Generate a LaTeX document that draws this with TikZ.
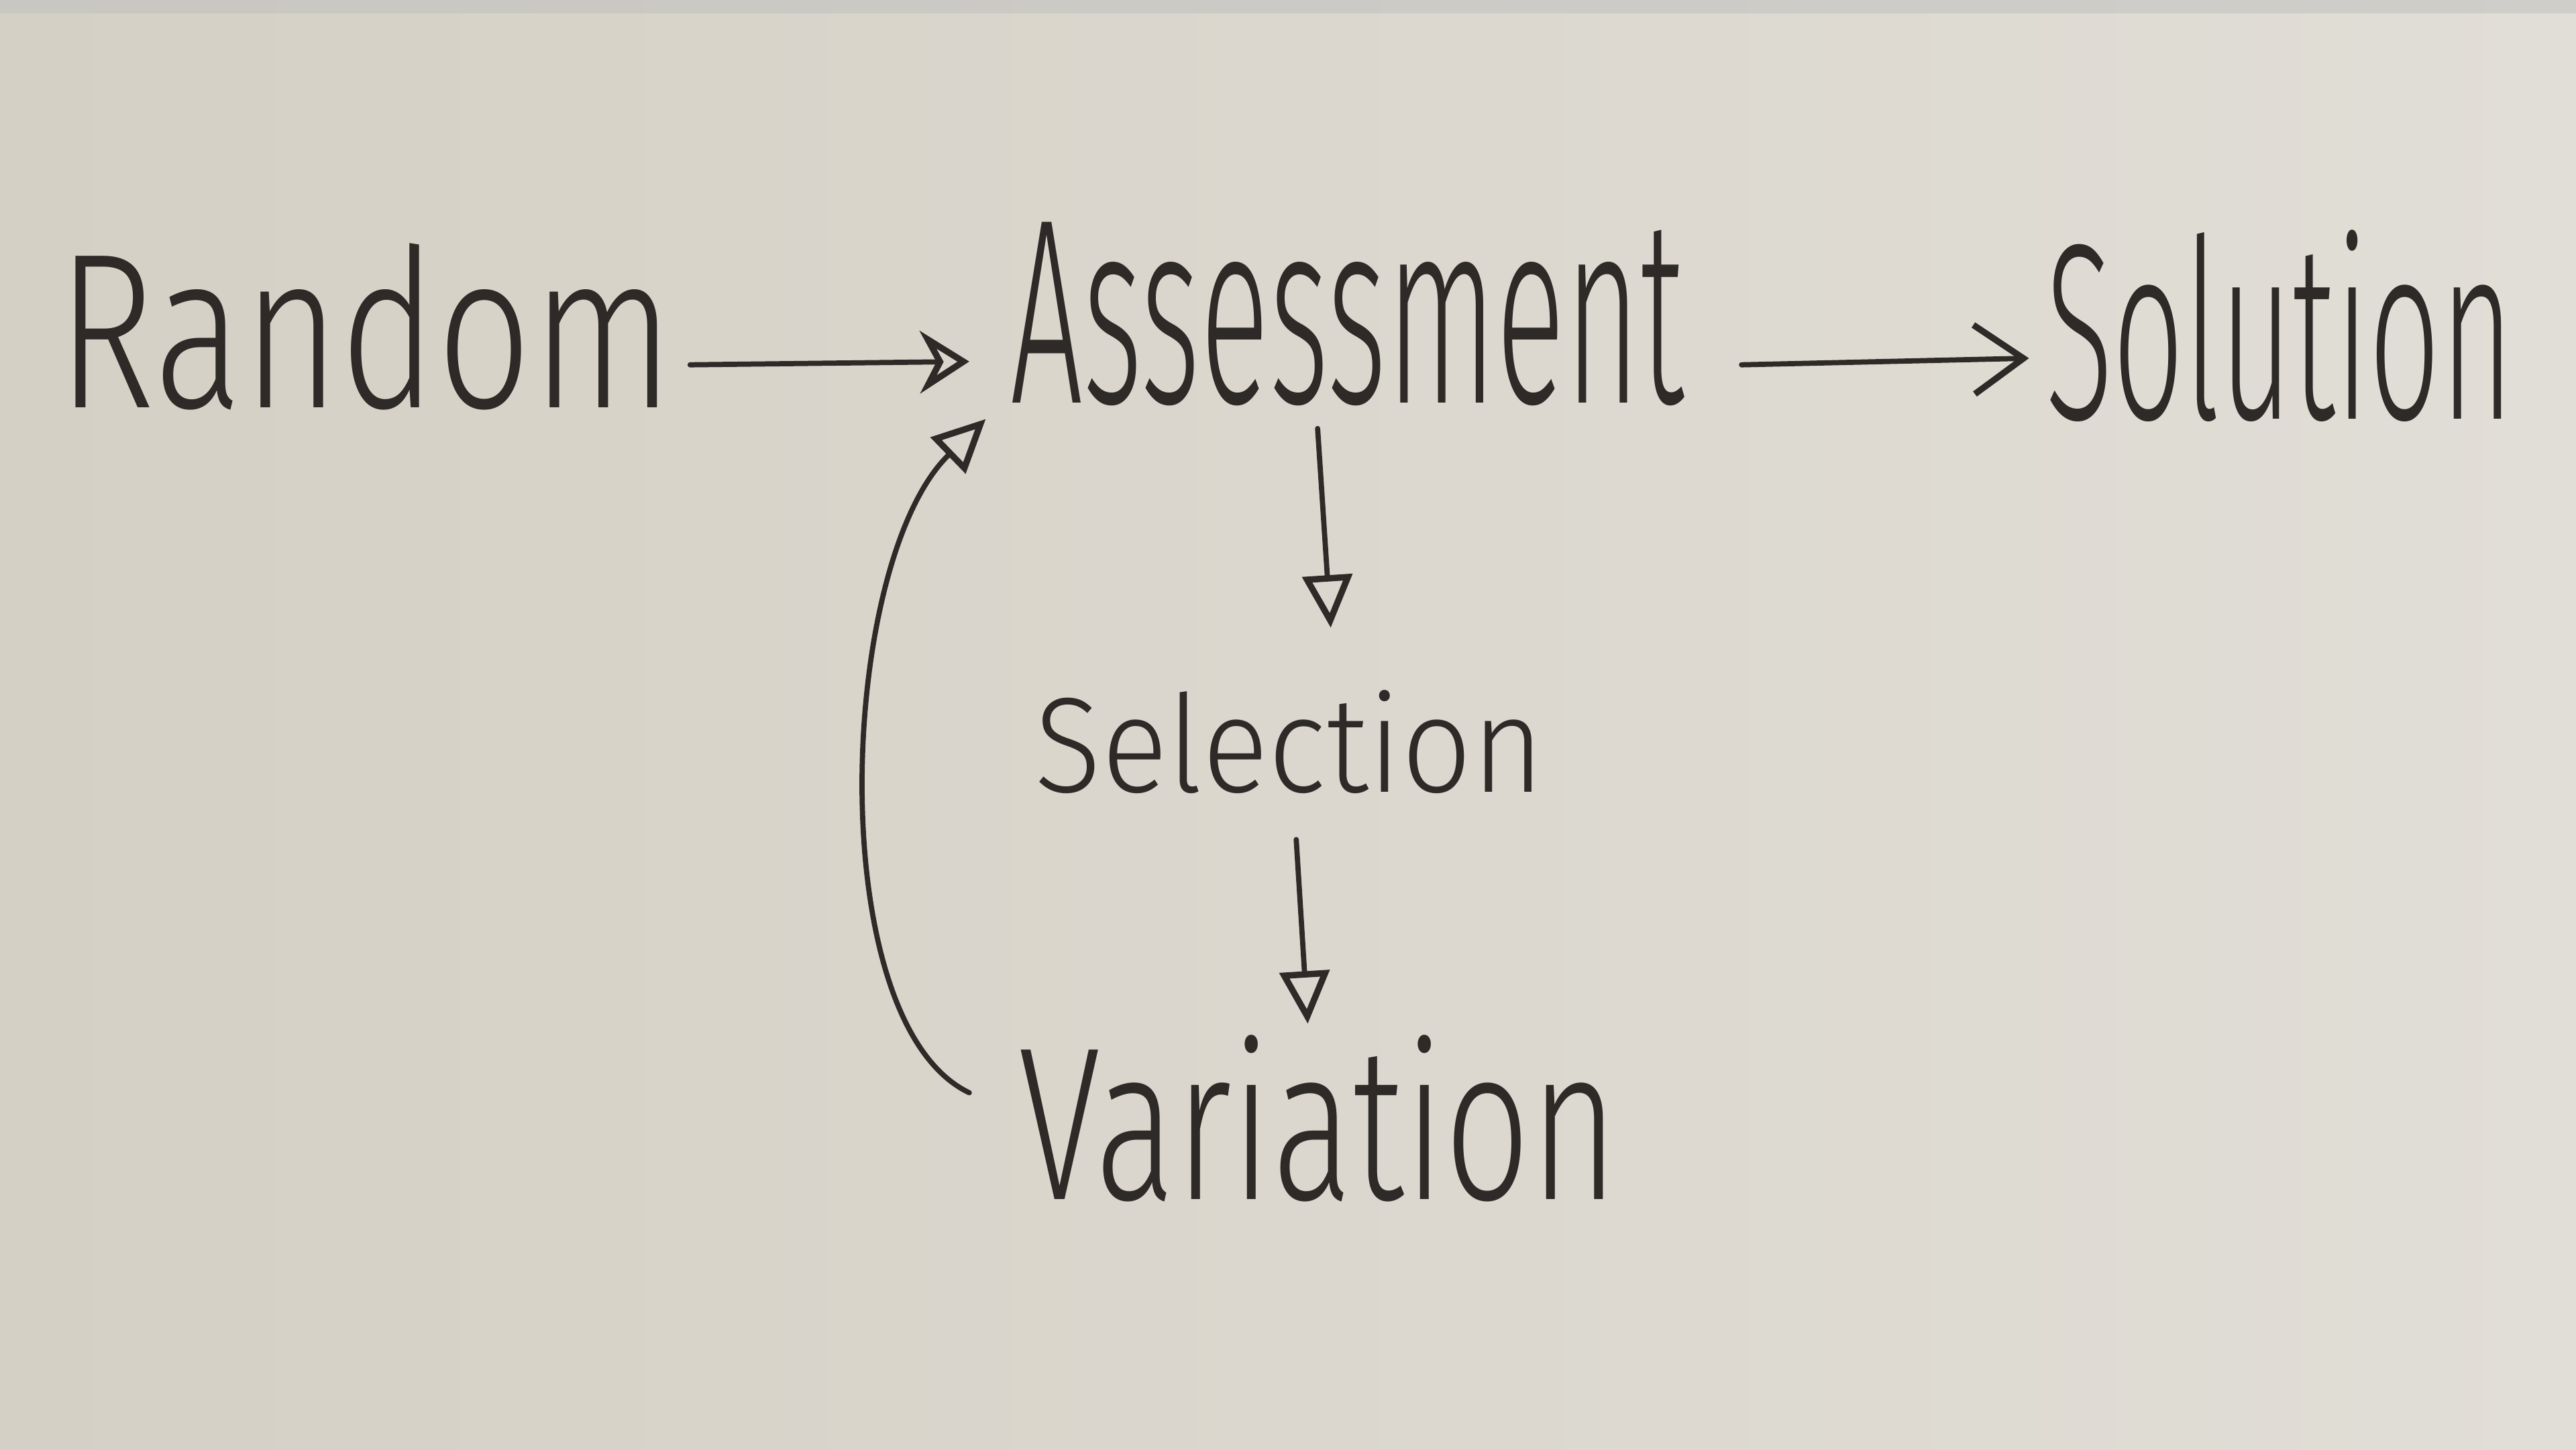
\documentclass[tikz,border=0pt]{standalone}
\usetikzlibrary{arrows.meta}
\usepackage{graphicx}
\usepackage{fontspec}
\newfontfamily\handfont{Fira Sans Light}
\definecolor{ink}{HTML}{2E2A27}
\definecolor{boardL}{HTML}{D5D0C5}
\definecolor{boardR}{HTML}{E1DED7}
\tikzset{
  word/.style={inner sep=0pt, outer sep=0pt, text=ink, anchor=base west, font=\handfont},
  link/.style={draw=ink, line width=0.9pt, line cap=round},
  tri/.style={-{Triangle[open, length=0.32cm, width=0.3cm, line width=1.1pt]}},
  stl/.style={-{Stealth[open, length=0.3cm, width=0.38cm, inset=0.1cm, line width=1.1pt]}},
  barb/.style={-{Straight Barb[length=0.3cm, width=0.42cm, line width=1.1pt]}}
}
\begin{document}
\begin{tikzpicture}
\shade[left color=boardL, right color=boardR] (0,0) rectangle (15.68,8.82);
\useasboundingbox (0,0) rectangle (15.68,8.82);
\fill[black!25, opacity=0.5] (0,8.74) rectangle (15.68,8.82);

\node[word] (random) at (0.35,6.34) {\resizebox{3.75cm}{1.0cm}{Random}};
\node[word] (assess) at (6.15,6.37) {\resizebox{4.10cm}{1.1cm}{Assessment}};
\node[word] (solution) at (12.45,6.27) {\resizebox{2.85cm}{1.15cm}{Solution}};
\node[word] (selection) at (6.30,4.00) {\resizebox{3.10cm}{0.62cm}{Selection}};
\node[word] (variation) at (6.20,1.52) {\resizebox{3.65cm}{1.0cm}{Variation}};

\draw[link, stl] ([xshift=0.1cm, yshift=0.26cm]random.base east) -- ([xshift=-0.25cm, yshift=0.25cm]assess.base west);
\draw[link, barb] ([xshift=0.35cm, yshift=0.23cm]assess.base east) -- ([xshift=-0.10cm, yshift=0.37cm]solution.base west);
\draw[link, tri] ([xshift=-0.18cm, yshift=-0.14cm]assess.south) -- ([xshift=0.25cm, yshift=0.38cm]selection.north);
\draw[link, tri] ([xshift=0.04cm, yshift=-0.28cm]selection.south) -- ([xshift=-0.065cm, yshift=0.07cm]variation.north);
\draw[link, tri] ([xshift=-0.3cm, yshift=0.65cm]variation.base west) .. controls (5.0,2.6) and (5.1,5.4) .. ([xshift=-0.15cm, yshift=-0.10cm]assess.base west);
\end{tikzpicture}
\end{document}
